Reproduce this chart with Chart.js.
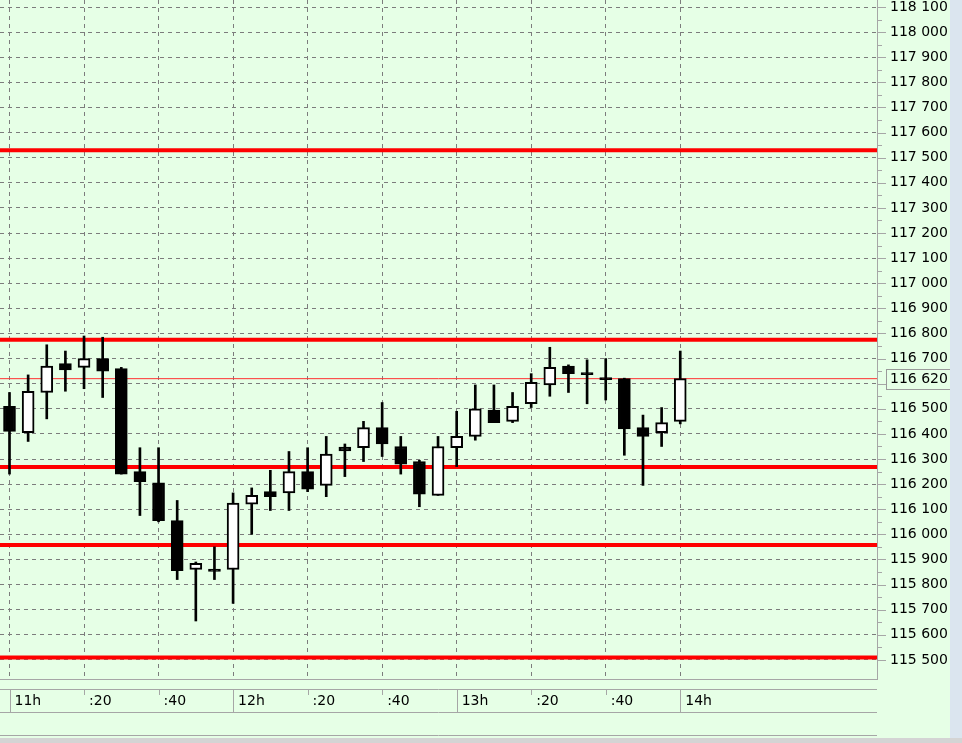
<!DOCTYPE html>
<html>
<head>
<meta charset="utf-8">
<script src="https://cdn.jsdelivr.net/npm/chart.js@4.4.1/dist/chart.umd.min.js"></script>
<style>
  html, body { margin: 0; padding: 0; background: #dbe5ef; }
  #wrap { position: relative; width: 962px; height: 743px; overflow: hidden; }
  #box { position: absolute; left: 0; top: 0; width: 950px; height: 738px; background: #e6ffe6; }
  #strip { position: absolute; left: 0; top: 738px; width: 962px; height: 5px; background: #d4d4d4; }
</style>
</head>
<body>
<div id="wrap">
  <div id="box"><canvas id="chart" width="950" height="738"></canvas></div>
  <div id="strip"></div>
</div>
<script>
// 5-minute candles, minutes after 11:00
const times  = [0, 5, 10, 15, 20, 25, 30, 35, 40, 45, 50, 55, 60, 65, 70, 75, 80, 85, 90, 95, 100, 105, 110, 115, 120, 125, 130, 135, 140, 145, 150, 155, 160, 165, 170, 175, 180];
const opens  = [116510, 116405, 116565, 116680, 116665, 116700, 116660, 116250, 116205, 116055, 115860, 115862, 115860, 116120, 116170, 116165, 116250, 116195, 116348, 116345, 116425, 116350, 116290, 116155, 116345, 116390, 116495, 116450, 116520, 116595, 116670, 116644, 116624, 116620, 116425, 116405, 116450];
const highs  = [116565, 116635, 116755, 116730, 116790, 116785, 116665, 116345, 116345, 116135, 115890, 115950, 116165, 116185, 116255, 116330, 116345, 116390, 116360, 116450, 116525, 116390, 116295, 116390, 116490, 116595, 116595, 116565, 116640, 116745, 116675, 116695, 116700, 116622, 116475, 116505, 116730];
const lows   = [116240, 116370, 116460, 116570, 116580, 116545, 116240, 116075, 116050, 115820, 115655, 115820, 115725, 116000, 116095, 116095, 116170, 116150, 116230, 116290, 116310, 116240, 116110, 116155, 116270, 116375, 116445, 116445, 116505, 116550, 116565, 116520, 116535, 116315, 116195, 116350, 116440];
const closes = [116410, 116570, 116670, 116655, 116700, 116650, 116240, 116210, 116055, 115855, 115885, 115852, 116125, 116155, 116150, 116250, 116180, 116320, 116332, 116425, 116360, 116280, 116160, 116350, 116390, 116500, 116445, 116510, 116605, 116665, 116640, 116636, 116616, 116420, 116390, 116445, 116620];

// red support / resistance levels
const levelPrices = [117530, 116775, 116268, 115958, 115510];
const lastPrice = 116620;

// price axis
const priceTicks = [115500, 115600, 115700, 115800, 115900, 116000, 116100, 116200, 116300, 116400, 116500, 116600, 116700, 116800, 116900, 117000, 117100, 117200, 117300, 117400, 117500, 117600, 117700, 117800, 117900, 118000, 118100];

// time axis
const tickMinutes = [0, 20, 40, 60, 80, 100, 120, 140, 160, 180];
const tickLabels  = ['11h', ':20', ':40', '12h', ':20', ':40', '13h', ':20', ':40', '14h'];

const X_MIN = -2.55, X_MAX = 232.8;
const Y_MIN = 115424, Y_MAX = 118128;

Chart.defaults.font.family = "'DejaVu Sans', sans-serif";
Chart.defaults.font.size = 14;
Chart.defaults.color = '#000';

function fmtPrice(v) {
  return String(v).replace(/\B(?=(\d{3})+$)/g, ' ');
}

const bodies = times.map((t, i) => ({ x: t, y: [opens[i], closes[i]] }));
const wicks = times.map((t, i) => ({ x: t, y: [lows[i], highs[i]] }));
const bodyColors = times.map((t, i) => closes[i] > opens[i] ? '#ffffff' : '#000000');

const levelSets = levelPrices.map(p => ({
  type: 'line',
  data: [{ x: X_MIN, y: p }, { x: X_MAX, y: p }],
  borderColor: '#ff0000',
  borderWidth: 4,
  pointRadius: 0,
  clip: 0
}));

const axisDeco = {
  id: 'axisDeco',
  afterDraw(chart) {
    const { ctx, chartArea, scales: { x, y } } = chart;
    ctx.save();
    ctx.strokeStyle = '#a6a6a6';
    ctx.lineWidth = 1;
    // y axis tick marks, major at labels, minor in between
    y.ticks.forEach(t => {
      const py = Math.round(y.getPixelForValue(t.value)) + 0.5;
      ctx.beginPath(); ctx.moveTo(chartArea.right, py); ctx.lineTo(chartArea.right + 9, py); ctx.stroke();
      const pm = Math.round(y.getPixelForValue(t.value + 50)) + 0.5;
      if (pm > chartArea.top) {
        ctx.beginPath(); ctx.moveTo(chartArea.right, pm); ctx.lineTo(chartArea.right + 5, pm); ctx.stroke();
      }
    });
    // time band lines
    const b = chartArea.bottom;
    [10, 33, 56].forEach(d => {
      ctx.beginPath(); ctx.moveTo(0, b + d + 0.5); ctx.lineTo(chartArea.right, b + d + 0.5); ctx.stroke();
    });
    x.ticks.forEach((t, i) => {
      const px = Math.round(x.getPixelForValue(t.value)) + 0.5;
      const len = tickLabels[i].startsWith(':') ? 6 : 23;
      ctx.beginPath(); ctx.moveTo(px, b + 10); ctx.lineTo(px, b + 10 + len); ctx.stroke();
    });
    // last price box
    const py = y.getPixelForValue(lastPrice);
    ctx.fillStyle = '#e6ffe6';
    ctx.fillRect(chartArea.right + 9, py - 10, 64, 21);
    ctx.strokeStyle = '#9a9a9a';
    ctx.strokeRect(chartArea.right + 9.5, Math.round(py - 10) + 0.5, 64, 20);
    ctx.fillStyle = '#000';
    ctx.font = "14px 'DejaVu Sans', sans-serif";
    ctx.textBaseline = 'middle';
    ctx.textAlign = 'left';
    ctx.fillText(fmtPrice(lastPrice), chartArea.right + 13, py + 1);
    ctx.restore();
  }
};

new Chart(document.getElementById('chart'), {
  type: 'bar',
  data: {
    datasets: [
      { type: 'bar', data: bodies, backgroundColor: bodyColors, borderColor: '#000', borderWidth: 2, borderSkipped: false, barThickness: 12, grouped: false },
      { type: 'bar', data: wicks, backgroundColor: '#000', borderWidth: 0, barThickness: 2, grouped: false },
      ...levelSets,
      { type: 'line', data: [{ x: X_MIN, y: lastPrice }, { x: X_MAX, y: lastPrice }], borderColor: '#ff3030', borderWidth: 1, pointRadius: 0, clip: 0 }
    ]
  },
  options: {
    responsive: false,
    animation: false,
    layout: { padding: { left: 0, top: 0, right: 0, bottom: 3 } },
    plugins: { legend: { display: false }, tooltip: { enabled: false } },
    scales: {
      x: {
        type: 'linear',
        min: X_MIN,
        max: X_MAX,
        offset: false,
        grid: { offset: false, color: '#7c7c7c', drawTicks: false },
        border: { color: '#a6a6a6', dash: [4, 4] },
        afterBuildTicks: s => { s.ticks = tickMinutes.map(v => ({ value: v })); },
        afterFit: s => { s.height = 56; s.paddingLeft = 0; s.paddingRight = 0; },
        ticks: {
          autoSkip: false,
          maxRotation: 0,
          align: 'start',
          labelOffset: 5,
          padding: 14,
          callback: (v, i) => tickLabels[i]
        }
      },
      y: {
        position: 'right',
        min: Y_MIN,
        max: Y_MAX,
        grid: { color: '#7c7c7c', drawTicks: false },
        border: { color: '#a6a6a6', dash: [4, 4] },
        afterBuildTicks: s => { s.ticks = priceTicks.map(v => ({ value: v })); },
        afterFit: s => { s.width = 73; s.paddingTop = 0; s.paddingBottom = 0; },
        ticks: {
          autoSkip: false,
          padding: 13,
          callback: v => fmtPrice(v)
        }
      }
    }
  },
  plugins: [axisDeco]
});
</script>
</body>
</html>
